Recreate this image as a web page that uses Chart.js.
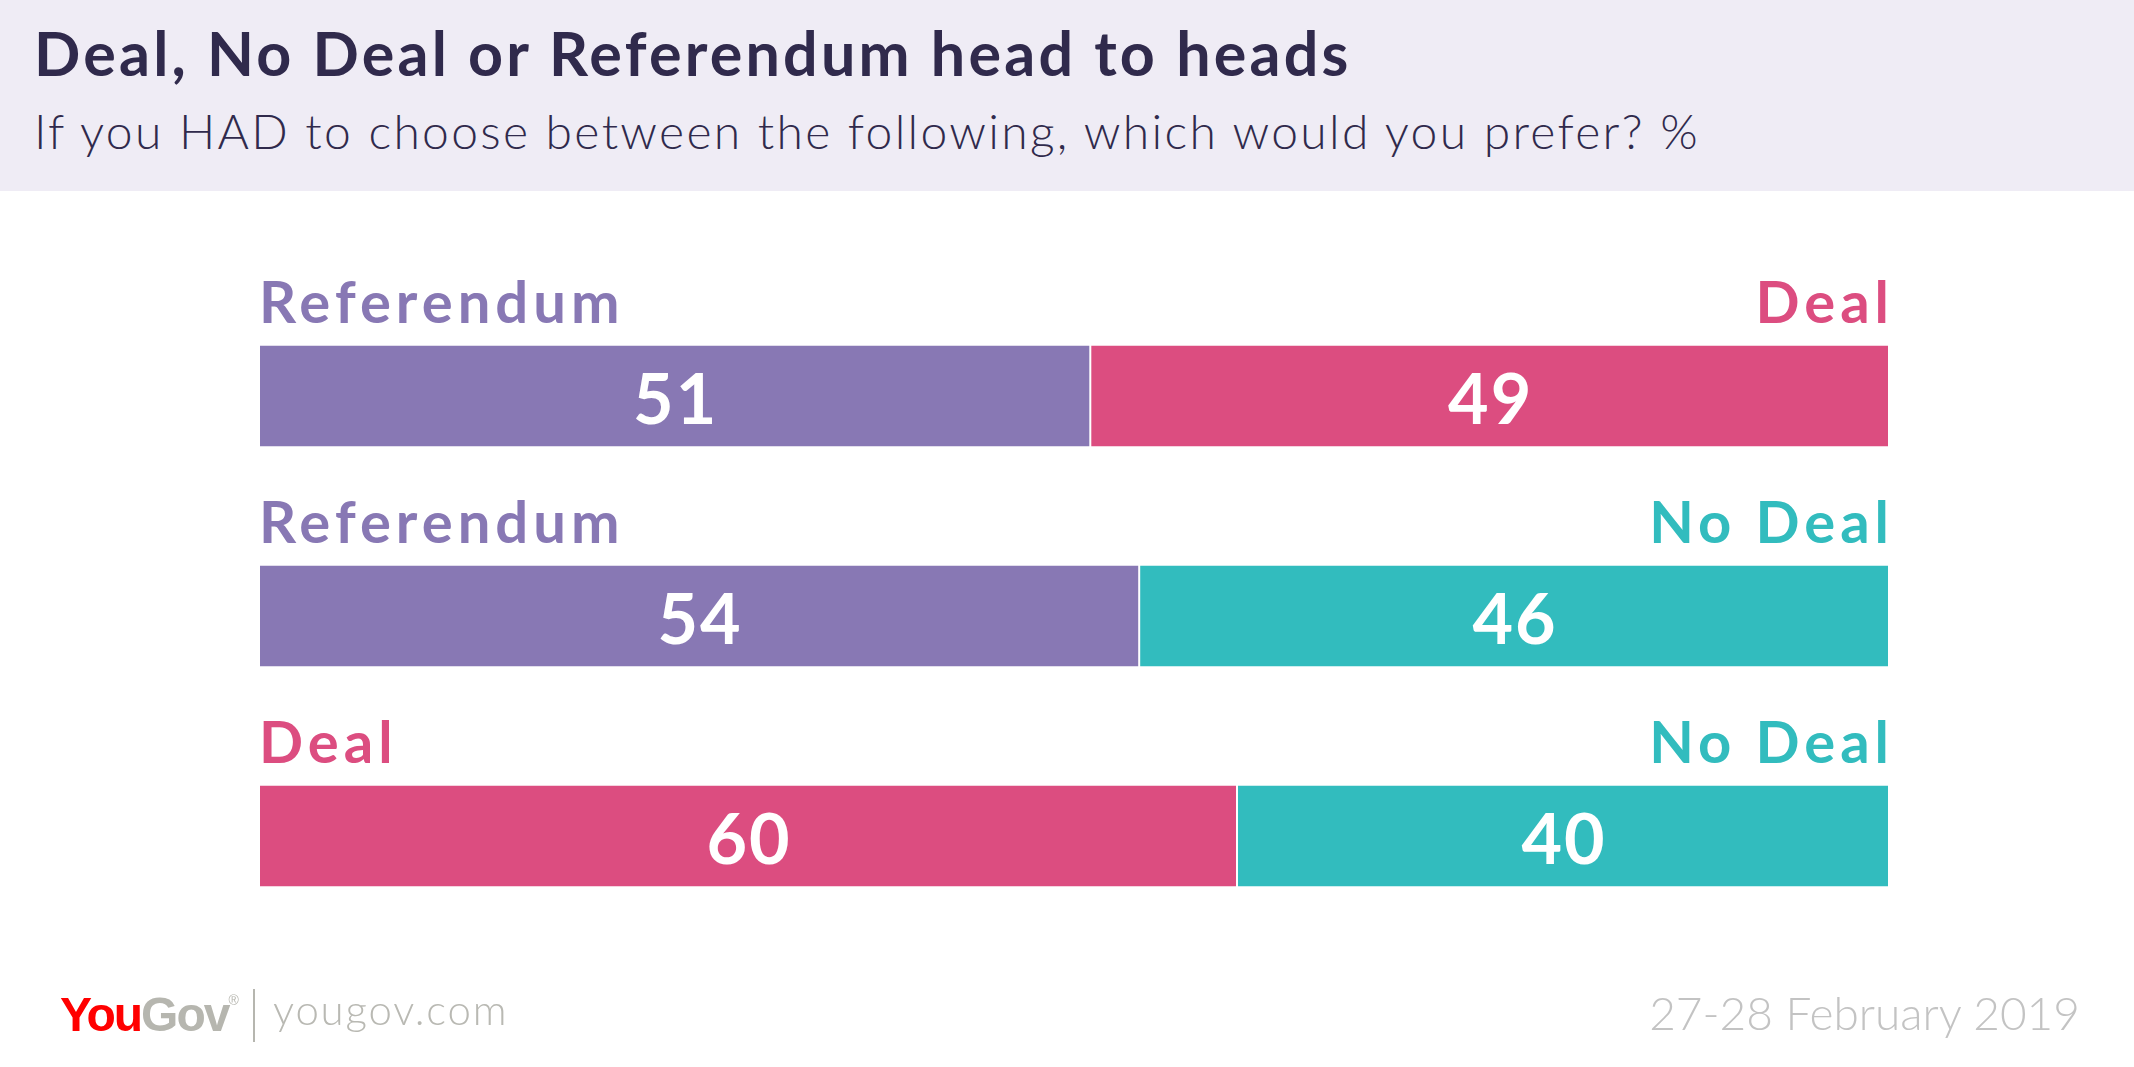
<!DOCTYPE html>
<html>
<head>
<meta charset="utf-8">
<script src="https://cdn.jsdelivr.net/npm/chart.js@4"></script>
<style>
  html, body { margin: 0; padding: 0; background: #fff; }
  body { width: 2134px; height: 1067px; position: relative; overflow: hidden; font-family: Lato, sans-serif; }
  #header { position: absolute; left: 0; top: 0; width: 2134px; height: 191px; background: #efecf5; }
  .txt { position: absolute; white-space: nowrap; line-height: 1.2; }
  #title { left: 34px; top: 16px; font-size: 61px; font-weight: 700; color: #302a4c; letter-spacing: 3.2px; }
  #subtitle { left: 34px; top: 102px; font-size: 48px; font-weight: 300; color: #302a4c; letter-spacing: 2.3px; }
  #logo { left: 60px; top: 988px; font-family: "Liberation Sans", Arial, sans-serif; font-size: 48px; font-weight: 700; letter-spacing: -2px; line-height: 1.117; }
  #logo .you { color: #ff0000; }
  #logo .gov { color: #b6b6af; }
  #logo sup { font-size: 14px; font-weight: 400; vertical-align: 26px; letter-spacing: 0; color: #b6b6af; }
  #divider { position: absolute; left: 253px; top: 989px; width: 2px; height: 53px; background: #b6b6af; }
  #site { left: 273px; top: 984px; font-size: 42px; font-weight: 300; color: #b9b9b3; letter-spacing: 1.8px; }
  #date { right: 54px; top: 985px; font-size: 46px; font-weight: 300; color: #c3c3c3; }
  #chart { position: absolute; left: 0; top: 0; }
</style>
</head>
<body>
<div id="header"></div>
<div class="txt" id="title">Deal, No Deal or Referendum head to heads</div>
<div class="txt" id="subtitle">If you HAD to choose between the following, which would you prefer? %</div>
<canvas id="chart" width="2134" height="1067"></canvas>
<div class="txt" id="logo"><span class="you">You</span><span class="gov">Gov</span><sup>®</sup></div>
<div id="divider"></div>
<div class="txt" id="site">yougov.com</div>
<div class="txt" id="date">27-28 February 2019</div>
<script>
const matchups = ['Referendum v Deal', 'Referendum v No Deal', 'Deal v No Deal'];
const leftOptions = ['Referendum', 'Referendum', 'Deal'];
const rightOptions = ['Deal', 'No Deal', 'No Deal'];
const leftValues = [51, 54, 60];
const rightValues = [49, 46, 40];

const optionColors = {
    'Referendum': '#8878b4',
    'Deal': '#dc4d80',
    'No Deal': '#32bcbe'
};

// labels above the bars and the numbers inside them
const barLabels = {
    id: 'barLabels',
    afterDatasetsDraw(chart) {
        const ctx = chart.ctx;
        const leftMeta = chart.getDatasetMeta(0);
        const rightMeta = chart.getDatasetMeta(1);
        ctx.save();
        ctx.textBaseline = 'alphabetic';
        leftMeta.data.forEach((bar, i) => {
            const rbar = rightMeta.data[i];
            const top = bar.y - bar.height / 2;

            ctx.font = '700 58px Lato';
            ctx.letterSpacing = '5px';
            ctx.fillStyle = optionColors[leftOptions[i]];
            ctx.textAlign = 'left';
            ctx.fillText(leftOptions[i], bar.base, top - 22);
            ctx.fillStyle = optionColors[rightOptions[i]];
            ctx.textAlign = 'right';
            // trailing spacing pushes right-aligned text left, compensate
            ctx.fillText(rightOptions[i], rbar.x + 5, top - 22);

            ctx.font = '700 70px Lato';
            ctx.letterSpacing = '2px';
            ctx.fillStyle = '#ffffff';
            ctx.textAlign = 'center';
            ctx.fillText(String(leftValues[i]), (bar.base + bar.x) / 2 + 1, bar.y + 28);
            ctx.fillText(String(rightValues[i]), (rbar.base + rbar.x) / 2 + 1, bar.y + 28);
        });
        ctx.restore();
    }
};

const ctx = document.getElementById('chart').getContext('2d');

const headToHeadChart = new Chart(ctx, {
    type: 'bar',
    data: {
        labels: matchups,
        datasets: [{
            label: 'first choice',
            data: leftValues,
            backgroundColor: leftOptions.map(o => optionColors[o]),
            borderColor: 'rgba(255,255,255,0.45)',
            borderWidth: 1,
            borderSkipped: false,
            categoryPercentage: 1,
            barPercentage: 0.465
        }, {
            label: 'second choice',
            data: rightValues,
            backgroundColor: rightOptions.map(o => optionColors[o]),
            borderColor: 'rgba(255,255,255,0.45)',
            borderWidth: 1,
            borderSkipped: false,
            categoryPercentage: 1,
            barPercentage: 0.465
        }]
    },
    options: {
        indexAxis: 'y',
        responsive: false,
        devicePixelRatio: 1,
        animation: false,
        layout: {
            padding: { left: 259, right: 245, top: 286, bottom: 121 }
        },
        scales: {
            x: { stacked: true, min: 0, max: 100, display: false },
            y: { stacked: true, display: false }
        },
        plugins: {
            legend: { display: false },
            tooltip: { enabled: false }
        }
    },
    plugins: [barLabels]
});
</script>
</body>
</html>
